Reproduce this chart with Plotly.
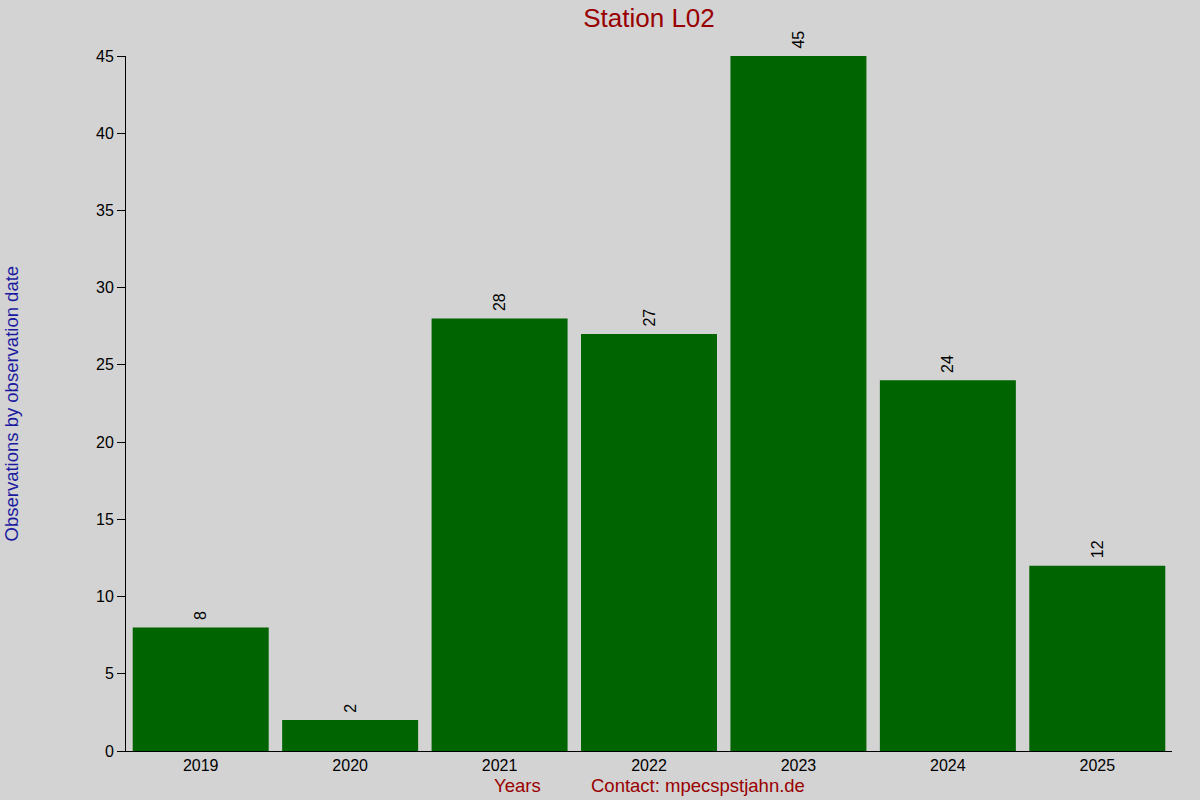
import plotly.graph_objects as go

years = ["2019", "2020", "2021", "2022", "2023", "2024", "2025"]
observations = [8, 2, 28, 27, 45, 24, 12]
y_ticks = [0, 5, 10, 15, 20, 25, 30, 35, 40, 45]

fig = go.Figure()
fig.add_trace(go.Bar(x=years, y=observations, marker_color="#006400", marker_line_width=0,
                     width=0.91, text=["\u00a0" + str(v) for v in observations],
                     textposition="outside", textangle=-90, cliponaxis=False,
                     textfont=dict(size=16, color="black", family="Liberation Sans, Arial")))

fig.update_layout(
    width=1200, height=800,
    paper_bgcolor="#d3d3d3", plot_bgcolor="#d3d3d3",
    font=dict(family="Liberation Sans, Arial", size=16, color="black"),
    margin=dict(l=126, r=28, t=56, b=49),
    showlegend=False,
    title=dict(text="Station L02", x=649 / 1200, xanchor="center", y=1 - 18 / 800, yanchor="middle",
               font=dict(size=26, color="#990000")),
    xaxis=dict(type="category", range=[-0.5, 6.5], showline=True, linecolor="black", linewidth=1,
               ticks="", showgrid=False, tickfont=dict(size=16), zeroline=False),
    yaxis=dict(range=[0, 45], tickvals=y_ticks, showline=True, linecolor="black", linewidth=1,
               ticks="outside", ticklen=8, tickcolor="black", showgrid=False, zeroline=False,
               tickfont=dict(size=16)),
    annotations=[
        dict(text="Observations by observation date", xref="paper", yref="paper",
             x=-115 / 1046, y=0.5, xanchor="center", yanchor="middle", textangle=-90,
             showarrow=False, font=dict(size=18.5, color="#1a1aa0")),
        dict(text="Years", xref="paper", yref="paper", x=(517 - 126) / 1046, y=-35 / 695,
             xanchor="center", yanchor="middle", showarrow=False,
             font=dict(size=18.5, color="#990000")),
        dict(text="Contact: mpecspstjahn.de", xref="paper", yref="paper", x=(698 - 126) / 1046,
             y=-35 / 695, xanchor="center", yanchor="middle", showarrow=False,
             font=dict(size=18.5, color="#990000")),
    ],
)

fig.write_html("out.html", config={"displayModeBar": False},
               post_script="document.body.style.margin='0';")
